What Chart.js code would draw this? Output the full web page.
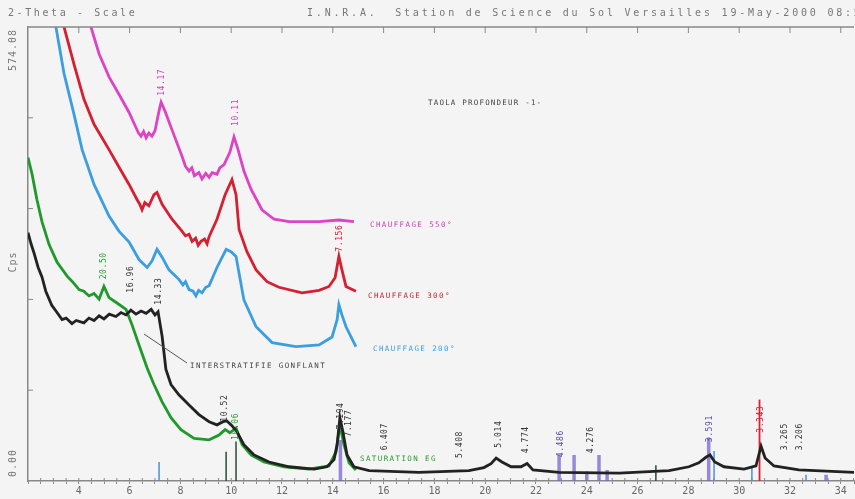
<!DOCTYPE html>
<html lang="fr">
<head>
<meta charset="UTF-8" />
<title>Diffractogramme TAOLA - profondeur 1</title>
<script src="https://cdn.jsdelivr.net/npm/chart.js"></script>
<style>
  html, body { margin: 0; padding: 0; background: #f4f4f4; overflow: hidden; }
  #wrap { width: 855px; height: 499px; }
</style>
</head>
<body>
<div id="wrap"><canvas id="xrd" width="855" height="499"></canvas></div>
<script>
// scans: 2-theta (deg) and Cps
const airTheta = [2.0, 2.12, 2.24, 2.4, 2.55, 2.7, 2.94, 3.1, 3.34, 3.5, 3.73, 3.9, 4.2, 4.4, 4.6, 4.8, 4.99, 5.2, 5.46, 5.66, 5.86, 6.05, 6.25, 6.45, 6.65, 6.85, 7.0, 7.12,
  7.28, 7.43, 7.63, 7.94, 8.34, 8.73, 9.13, 9.44, 9.68, 9.83, 10.03, 10.23, 10.5, 10.9, 11.49, 12.28, 13.26, 13.77, 14.05, 14.17, 14.28, 14.4, 14.56, 14.83,
  15.43, 17.39, 19.36, 19.95, 20.23, 20.43, 20.66, 21.02, 21.41, 21.65, 21.88, 22.91, 25.27, 27.24, 28.02, 28.41, 28.69, 28.85, 29.04, 29.4, 30.19, 30.66,
  30.86, 31.02, 31.37, 32.35, 34.52];
const airCps = [314, 300, 288, 270, 258, 240, 222, 215, 204, 206, 199, 203, 200, 206, 203, 209, 205, 211, 208, 213, 210, 216, 211, 215, 212, 217, 210, 214,
  183, 141, 122, 109, 96, 84, 75, 71, 75, 76, 70, 62, 46, 33, 24, 18, 15, 18, 27, 46, 80, 62, 33, 18,
  13, 11, 13, 17, 22, 29, 24, 18, 18, 22, 14, 11, 10, 13, 18, 23, 30, 33, 24, 18, 15, 19,
  44, 29, 19, 14, 11];

const egTheta = [2.0, 2.16, 2.35, 2.55, 2.83, 3.14, 3.54, 3.75, 4.01, 4.2, 4.4, 4.6, 4.8, 4.99, 5.19, 5.46, 5.86, 6.09, 6.37, 6.69, 6.96, 7.28, 7.63, 8.02, 8.54,
  9.13, 9.52, 9.76, 9.95, 10.19, 10.43, 10.78, 11.29, 12.08, 13.06, 13.85, 14.13, 14.28, 14.44, 14.64, 14.91];
const egCps = [409, 388, 356, 328, 299, 277, 259, 252, 242, 240, 234, 237, 230, 246, 232, 226, 217, 198, 172, 143, 122, 100, 80, 65, 54,
  52, 58, 65, 61, 67, 46, 33, 24, 18, 15, 19, 37, 71, 46, 23, 14];

const h200Theta = [2.8, 3.1, 3.42, 3.81, 4.13, 4.6, 5.19, 5.58, 5.98, 6.37, 6.69, 6.88, 7.08, 7.28, 7.55, 7.94, 8.1, 8.2, 8.34, 8.5, 8.61, 8.72, 8.85, 9.0, 9.13,
  9.44, 9.8, 9.99, 10.19, 10.5, 10.98, 11.61, 12.55, 13.46, 13.97, 14.17, 14.24, 14.36, 14.52, 14.91];
const h200Cps = [620, 574, 515, 464, 419, 375, 335, 316, 302, 280, 270, 278, 293, 283, 267, 255, 248, 252, 242, 240, 234, 241, 238, 245, 247,
  270, 293, 290, 284, 229, 195, 175, 170, 172, 182, 204, 223, 210, 195, 170];

const h300Theta = [3.1, 3.42, 3.81, 4.2, 4.6, 5.19, 5.58, 5.98, 6.29, 6.4, 6.49, 6.6, 6.76, 6.96, 7.08, 7.28, 7.67, 8.06, 8.2, 8.34, 8.46, 8.6, 8.7, 8.81, 8.95,
  9.05, 9.13, 9.44, 9.76, 10.03, 10.19, 10.31, 10.62, 10.98, 11.41, 11.88, 12.79, 13.46, 13.85, 14.09, 14.24, 14.36, 14.52, 14.91];
const h300Cps = [620, 574, 527, 483, 451, 419, 397, 375, 356, 350, 343, 352, 348, 362, 365, 350, 331, 316, 310, 312, 303, 307, 298, 303, 306,
  300, 309, 331, 362, 381, 362, 318, 290, 267, 252, 245, 238, 241, 246, 257, 284, 267, 246, 240];

const h550Theta = [4.2, 4.48, 4.8, 5.19, 5.58, 5.98, 6.25, 6.35, 6.45, 6.55, 6.65, 6.76, 6.88, 7.0, 7.16, 7.24, 7.39, 7.67, 8.06, 8.2, 8.34, 8.45, 8.55, 8.73,
  8.85, 9.0, 9.13, 9.25, 9.44, 9.55, 9.72, 9.95, 10.11, 10.27, 10.5, 10.78, 11.21, 11.69, 12.28, 13.46, 14.24, 14.83];
const h550Cps = [620, 574, 540, 511, 489, 466, 447, 440, 436, 442, 434, 440, 436, 443, 468, 479, 468, 444, 411, 398, 392, 396, 386, 390,
  382, 389, 384, 390, 388, 396, 400, 416, 435, 419, 392, 369, 343, 331, 328, 328, 330, 328];

// reference sticks (position, height in Cps)
const purplePos = [14.3, 22.91, 23.5, 24.0, 24.48, 24.8, 28.8, 33.42];
const purpleHgt = [52, 33, 33, 12, 33, 14, 55, 8];
const bluePos = [7.16, 29.01, 30.5, 32.63];
const blueHgt = [24, 38, 18, 8];
const darkPos = [9.8, 10.19, 26.72];
const darkHgt = [37, 50, 20];
const redPos = [30.8];
const redHgt = [103];

// d-spacing labels
const peakAt = [7.28, 10.19, 14.28, 4.99, 6.05, 7.16, 9.76, 10.19, 14.32, 14.64, 16.05, 19.0, 20.55, 21.6, 23.0, 24.15, 28.85, 30.86, 31.8, 32.4];
const peakBase = [487, 449, 290, 255, 238, 223, 75, 52, 65, 56, 39, 29, 42, 35, 30, 35, 49, 61, 39, 39];
const peakText = ['14.17', '10.11', '7.156', '20.50', '16.96', '14.33', '10.52', '10.06', '7.194', '7.177', '6.407', '5.408', '5.014', '4.774',
  '4.486', '4.276', '3.591', '3.343', '3.265', '3.206'];
const peakColor = ['#d040b8', '#d040b8', '#cc2233', '#2a9a30', '#333', '#333', '#333', '#2a9a30', '#333', '#333', '#333', '#333', '#333', '#333',
  '#5a4aa0', '#333', '#5a4aa0', '#cc2233', '#333', '#333'];

const MONO = '"DejaVu Sans Mono", "Liberation Mono", monospace';

function pts(xs, ys) { return xs.map((v, i) => ({ x: v, y: ys[i] })); }
function sticks(xs, hs) { return xs.flatMap((v, i) => [{ x: v, y: 0 }, { x: v, y: hs[i] }, { x: v, y: null }]); }

function scan(data, color) {
  return { data, borderColor: color, borderWidth: 2.8, pointRadius: 0, tension: 0, order: 1 };
}
function stickSet(data, color, w) {
  return { data, borderColor: color, borderWidth: w, pointRadius: 0, spanGaps: false, order: 5 };
}

function text(ctx, s, x, y, color, size, spacing, rot, align) {
  ctx.save();
  ctx.font = size + 'px ' + MONO;
  ctx.letterSpacing = spacing + 'px';
  ctx.fillStyle = color;
  ctx.textAlign = align || 'left';
  ctx.textBaseline = 'middle';
  ctx.translate(x, y);
  if (rot) ctx.rotate(-Math.PI / 2);
  ctx.fillText(s, 0, 0);
  ctx.restore();
}

const decor = {
  id: 'decor',
  afterDraw(chart) {
    const { ctx, chartArea: a, scales: { x, y } } = chart;
    ctx.save();
    ctx.strokeStyle = '#888';
    ctx.lineWidth = 1.5;
    ctx.beginPath();
    ctx.moveTo(a.left, a.top); ctx.lineTo(a.right, a.top);
    ctx.stroke();
    ctx.lineWidth = 1;
    ctx.beginPath();
    for (let t = 4; t <= 34; t += 2) {
      const px = x.getPixelForValue(t);
      ctx.moveTo(px, a.top); ctx.lineTo(px, a.top + 6);
    }
    for (let t = 2.5; t <= 34.5; t += 0.5) {
      const px = x.getPixelForValue(t);
      ctx.moveTo(px, a.bottom); ctx.lineTo(px, a.bottom - 3);
    }
    for (let k = 1; k < 5; k++) {
      const py = y.getPixelForValue(574.08 * k / 5);
      ctx.moveTo(a.left, py); ctx.lineTo(a.left + 5, py);
    }
    ctx.stroke();
    ctx.restore();

    // header
    text(ctx, '2-Theta - Scale', 8, 13, '#777', 10, 2.6);
    text(ctx, 'I.N.R.A.  Station de Science du Sol Versailles 19-May-2000 08:54', 307, 13, '#777', 10, 2.8);
    // y axis
    text(ctx, '574.08', 13, a.top + 2, '#777', 10, 1, true, 'right');
    text(ctx, 'Cps', 13, 262, '#777', 10, 1, true, 'center');
    text(ctx, '0.00', 13, a.bottom - 4, '#777', 10, 1, true, 'left');

    // peak labels
    peakAt.forEach((t, i) => {
      text(ctx, peakText[i], x.getPixelForValue(t), y.getPixelForValue(peakBase[i]), peakColor[i], 8, 0.6, true, 'left');
    });

    // curve names
    text(ctx, 'CHAUFFAGE 550°', 370, 225, '#d040b8', 7.5, 1.4);
    text(ctx, 'CHAUFFAGE 300°', 368, 296, '#cc2233', 7.5, 1.4);
    text(ctx, 'CHAUFFAGE 200°', 373, 349, '#3a9ee0', 7.5, 1.4);
    text(ctx, 'SATURATION EG', 360, 459, '#2a9a30', 7.5, 1.4);
    text(ctx, 'INTERSTRATIFIE GONFLANT', 190, 366, '#444', 7.5, 1.4);
    text(ctx, 'TAOLA PROFONDEUR -1-', 428, 103, '#444', 7.5, 1.2);
    ctx.save();
    ctx.strokeStyle = '#555';
    ctx.lineWidth = 1;
    ctx.beginPath();
    ctx.moveTo(144, 334); ctx.lineTo(187, 363);
    ctx.stroke();
    ctx.restore();
  }
};

new Chart(document.getElementById('xrd'), {
  type: 'line',
  data: {
    datasets: [
      scan(pts(airTheta, airCps), '#222'),
      scan(pts(egTheta, egCps), '#1f9a2a'),
      scan(pts(h200Theta, h200Cps), '#3a9ee0'),
      scan(pts(h300Theta, h300Cps), '#d42030'),
      scan(pts(h550Theta, h550Cps), '#dd44c4'),
      stickSet(sticks(purplePos, purpleHgt), 'rgba(120,100,210,0.75)', 3.5),
      stickSet(sticks(bluePos, blueHgt), '#4a90e0', 1.5),
      stickSet(sticks(darkPos, darkHgt), '#2f4a3a', 1.5),
      stickSet(sticks(redPos, redHgt), '#e02030', 1.8)
    ]
  },
  options: {
    responsive: false,
    animation: false,
    layout: { padding: { top: 27, left: 0, right: 0, bottom: 0 } },
    plugins: { legend: { display: false }, tooltip: { enabled: false } },
    scales: {
      x: {
        type: 'linear', min: 2, max: 34.52,
        ticks: {
          stepSize: 0.5, autoSkip: false, maxRotation: 0, padding: 1,
          color: '#666', font: { family: MONO, size: 10 },
          callback: v => (v % 2 === 0 && v >= 4) ? v : ''
        },
        grid: { drawOnChartArea: false, tickLength: 3, color: '#888' },
        border: { color: '#888', width: 1.5 },
        afterFit(s) { s.height = 18; }
      },
      y: {
        min: 0, max: 574.08,
        ticks: { display: false },
        grid: { drawOnChartArea: false, drawTicks: false },
        border: { color: '#888', width: 1.5 },
        afterFit(s) { s.width = 28; }
      }
    }
  },
  plugins: [decor]
});
</script>
</body>
</html>
